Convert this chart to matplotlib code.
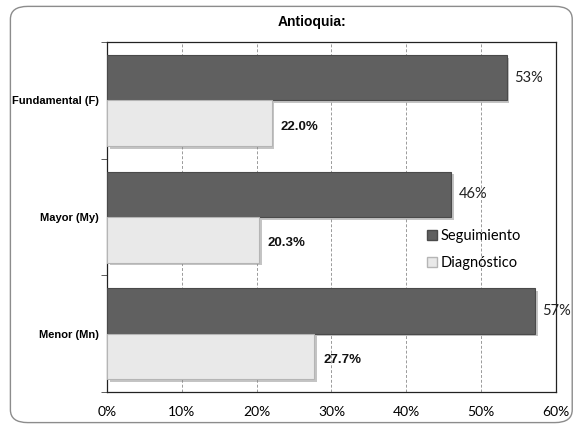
import matplotlib.pyplot as plt
import matplotlib.patheffects as pe
from matplotlib.patches import FancyBboxPatch, Patch
import numpy as np

# data (top to bottom)
categorias = ['Fundamental (F)', 'Mayor (My)', 'Menor (Mn)']
seguimiento = [53.4, 46.0, 57.2]
diagnostico = [22.0, 20.3, 27.7]
etiquetas_seg = ['53%', '46%', '57%']
etiquetas_diag = ['22.0%', '20.3%', '27.7%']

fig = plt.figure(figsize=(5.78, 4.26), dpi=100)

# rounded frame around the chart
marco = FancyBboxPatch((0.018, 0.008), 0.972, 0.977, boxstyle='round,pad=0,rounding_size=0.03',
                       transform=fig.transFigure, facecolor='none', edgecolor='#8c8c8c',
                       linewidth=1.0, zorder=-1)
fig.patches.append(marco)

ax = fig.add_axes([0.185, 0.080, 0.777, 0.821])
ax.set_facecolor('none')

y = np.arange(len(categorias))
h = 0.39
sombra = [pe.SimplePatchShadow(offset=(2, -2), shadow_rgbFace='#8a8a8a', alpha=0.5), pe.Normal()]

b1 = ax.barh(y - h / 2, seguimiento, height=h, color='#606060', edgecolor='#4a4a4a',
             linewidth=0.8, zorder=3)
b2 = ax.barh(y + h / 2, diagnostico, height=h, color='#e9e9e9', edgecolor='#b5b5b5',
             linewidth=0.8, zorder=3)
for b in list(b1) + list(b2):
    b.set_path_effects(sombra)

for i in range(len(categorias)):
    ax.text(seguimiento[i] + 1.0, y[i] - h / 2, etiquetas_seg[i], va='center', ha='left',
            fontsize=10.5, family='Lato', color='#222222')
    ax.text(diagnostico[i] + 1.2, y[i] + h / 2 + 0.03, etiquetas_diag[i], va='center', ha='left',
            fontsize=9.5, family='Liberation Sans', fontweight='bold', color='#111111')

ax.set_xlim(0, 60)
ax.set_ylim(2.5, -0.5)
ax.set_xticks(np.arange(0, 61, 10))
ax.set_xticklabels([f'{v}%' for v in range(0, 61, 10)], fontsize=10, family='Lato')
ax.tick_params(axis='x', length=0, pad=10)
ax.grid(axis='x', linestyle=(0, (3, 2)), color='#9a9a9a', linewidth=0.7, zorder=0)

ax.set_yticks(y)
ax.set_yticklabels(categorias, fontsize=8, family='Liberation Sans', fontweight='bold')
ax.set_yticks([-0.5, 0.5, 1.5, 2.5], minor=True)
ax.tick_params(axis='y', which='major', length=0, pad=6)
ax.tick_params(axis='y', which='minor', length=4, color='#444444')

for s in ax.spines.values():
    s.set_color('#222222')
    s.set_linewidth(0.9)

ax.legend([Patch(facecolor='#606060', edgecolor='#4a4a4a'), Patch(facecolor='#e9e9e9', edgecolor='#b5b5b5')],
          ['Seguimiento', 'Diagnóstico'], loc='upper left', bbox_to_anchor=(0.7, 0.482),
          frameon=False, prop={'family': 'Lato', 'size': 10.5}, handlelength=0.7, handleheight=0.7,
          handletextpad=0.25, labelspacing=0.9, borderaxespad=0)

fig.text(0.54, 0.948, 'Antioquia:', ha='center', va='center', fontsize=10,
         family='Liberation Sans', fontweight='bold')

fig.savefig('out.png', dpi=100)
